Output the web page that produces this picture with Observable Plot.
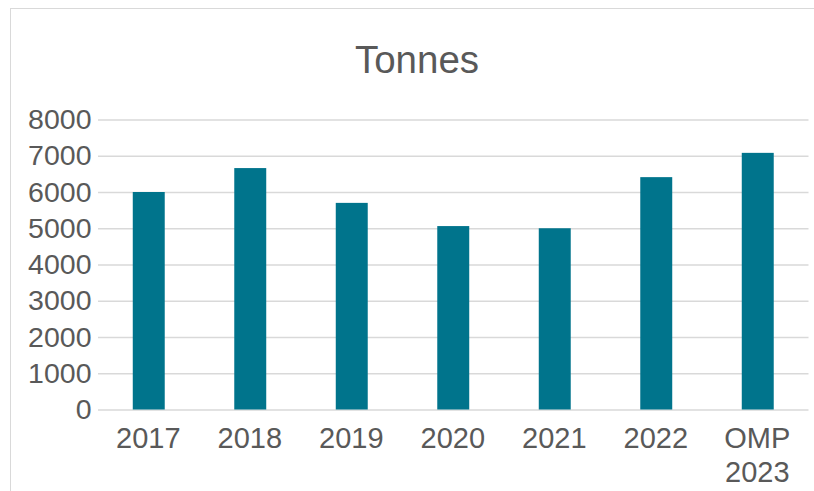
<!DOCTYPE html>
<html>
<head>
<meta charset="utf-8">
<script src="https://cdn.jsdelivr.net/npm/d3@7"></script>
<script src="https://cdn.jsdelivr.net/npm/@observablehq/plot@0.6"></script>
<style>
  html, body { margin: 0; padding: 0; background: #fff; }
  #wrap { position: relative; width: 814px; height: 491px; overflow: hidden; font-family: "Liberation Sans", Arial, sans-serif; }
  #frame { position: absolute; left: 10px; top: 8px; width: 820px; height: 520px; border: 1.5px solid #d9d9d9; box-sizing: border-box; }
  #title { position: absolute; left: 0; width: 834px; top: 41px; text-align: center; font-size: 38.5px; line-height: 38.5px; color: #595959; }
  #chart { position: absolute; left: 0; top: 95px; }
</style>
</head>
<body>
<div id="wrap">
  <div id="frame"></div>
  <div id="title">Tonnes</div>
  <div id="chart"></div>
</div>
<script>
const categories = ["2017", "2018", "2019", "2020", "2021", "2022", "OMP 2023"];
const tonnes = [6000, 6660, 5700, 5060, 5000, 6410, 7080];
const yTicks = [0, 1000, 2000, 3000, 4000, 5000, 6000, 7000, 8000];

const data = categories.map((c, i) => ({category: c, value: tonnes[i]}));

const chart = Plot.plot({
  width: 814,
  height: 396,
  marginLeft: 98,
  marginRight: 5.5,
  marginTop: 24.5,
  marginBottom: 81.5,
  style: {fontFamily: "'Liberation Sans', Arial, sans-serif", background: "transparent", color: "#595959", overflow: "visible"},
  x: {domain: categories, paddingInner: 0.685, paddingOuter: 0.3425, round: false, label: null},
  y: {domain: [0, 8000], label: null},
  marks: [
    Plot.gridY(yTicks, {stroke: "#d9d9d9", strokeOpacity: 1, strokeWidth: 1.6}),
    Plot.barY(data, {x: "category", y: "value", fill: "#00748c"}),
    Plot.axisY({ticks: yTicks, tickSize: 0, tickPadding: 7, fontSize: 28.5, fill: "#595959", label: null, tickFormat: d => String(d)}),
    Plot.axisX({tickSize: 0, tickPadding: 14, fontSize: 29, dx: -1, fill: "#595959", label: null, lineHeight: 1.17, tickFormat: d => d.replace(" ", "\n")})
  ]
});
document.getElementById("chart").appendChild(chart);
</script>
</body>
</html>
